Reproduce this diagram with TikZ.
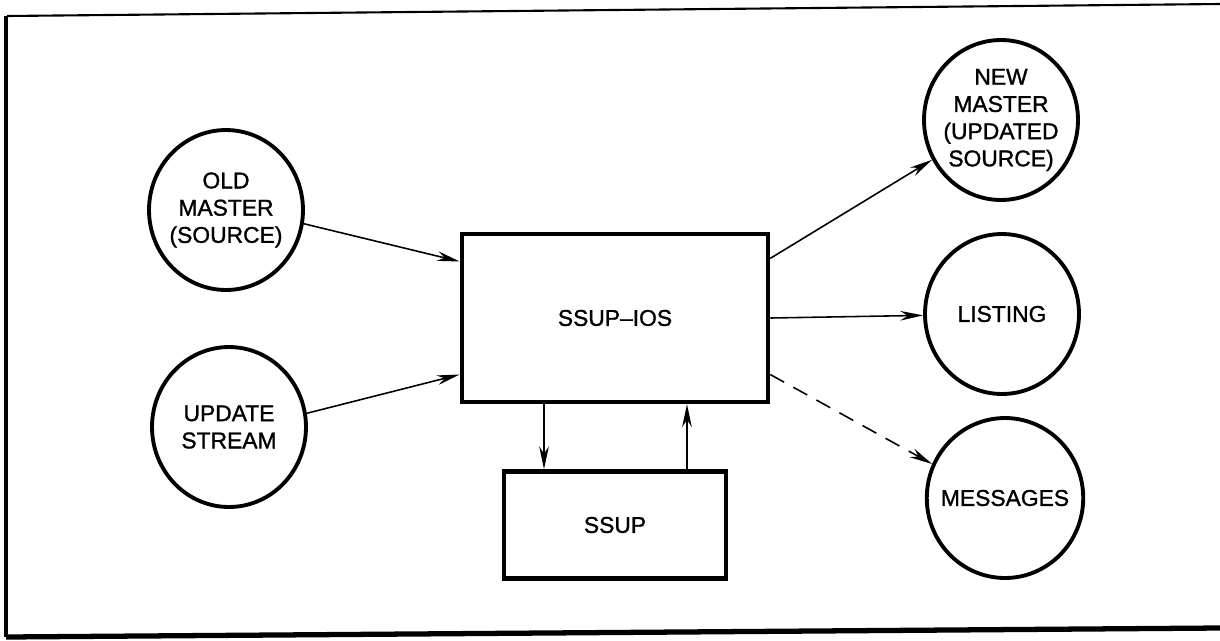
\documentclass[tikz,border=0pt]{standalone}
\usepackage{fontspec}
\setmainfont{Liberation Sans}[FakeBold=1.2]
\usepackage{tikz}
\usetikzlibrary{shapes.geometric, arrows.meta, positioning}

\begin{document}
\begin{tikzpicture}[
    x=0.02cm, y=-0.02cm,
    proc/.style={rectangle, draw=black, line width=2.6pt, text centered, font=\fontsize{13}{15.5}\selectfont},
    store/.style={ellipse, draw=black, line width=2.2pt, minimum width=3.08cm, minimum height=3.2cm, inner xsep=-5pt, inner ysep=0pt, align=center, font=\fontsize{13}{15.5}\selectfont},
    arrow/.style={-{Stealth[length=13pt, width=5.5pt]}, line width=0.9pt}
]
\useasboundingbox (0,0) rectangle (1220,640);

% Frame
\draw[line width=1.2pt] (7,16) -- (1220,4);
\draw[line width=2.5pt] (6,16) -- (6,637);
\draw[line width=3pt] (6,637) -- (1220,628);

% Inputs
\node[store] (oldmaster) at (226,210) {OLD\\MASTER\\(SOURCE)};
\node[store] (update) at (229,427) {UPDATE\\STREAM};

% Processes
\node[proc, minimum width=6.12cm, minimum height=3.36cm] (ssupios) at (615,318) {SSUP--IOS};
\node[proc, minimum width=4.44cm, minimum height=2.14cm] (ssup) at (615,525) {SSUP};

% Outputs
\node[store] (newmaster) at (1001,120) {NEW\\MASTER\\(UPDATED\\SOURCE)};
\node[store] (listing) at (1002,314) {LISTING};
\node[store] (messages) at (1005,498) {MESSAGES};

% Arrows - inputs to SSUP-IOS
\draw[arrow] (oldmaster.-10) -- (ssupios.160);
\draw[arrow] (update.10) -- (ssupios.200);

% Arrows - SSUP-IOS to outputs
\draw[arrow] (ssupios.21) -- (newmaster.210);
\draw[arrow] (ssupios.east) -- (listing);
\draw[arrow, dashed, dash pattern=on 9pt off 6pt] (ssupios.-20) -- (messages.155);

% Arrows - SSUP-IOS and SSUP
\draw[arrow] ([xshift=-1.42cm]ssupios.south) -- ([xshift=-1.42cm]ssup.north);
\draw[arrow] ([xshift=1.44cm]ssup.north) -- ([xshift=1.44cm]ssupios.south);

\end{tikzpicture}
\end{document}
